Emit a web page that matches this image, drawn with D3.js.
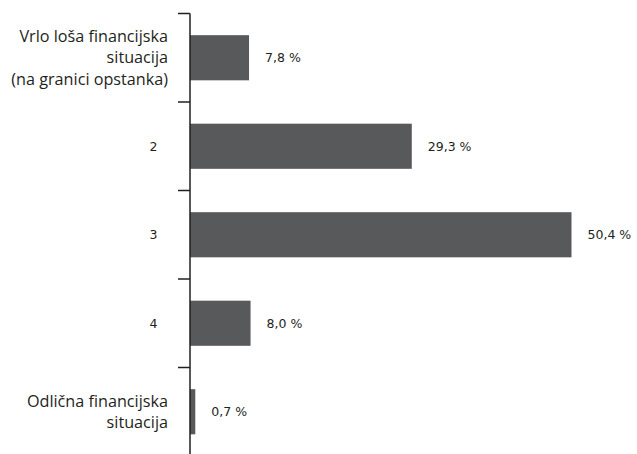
<!DOCTYPE html>
<html><head><meta charset="utf-8">
<script src="https://cdn.jsdelivr.net/npm/d3@7"></script>
<style>body{margin:0;background:#fff}</style>
</head><body>
<svg id="c" width="637" height="454"></svg>
<script>
const categories = [["Vrlo loša financijska","situacija","(na granici opstanka)"],["2"],["3"],["4"],["Odlična financijska","situacija"]];
const values = [7.8, 29.3, 50.4, 8.0, 0.7];
const valueLabels = ["7,8 %","29,3 %","50,4 %","8,0 %","0,7 %"];

const svg = d3.select("#c");
const x0 = 190;
const x = d3.scaleLinear().domain([0, 50.4]).range([x0, 571.5]);
const y = d3.scaleBand().domain(d3.range(categories.length)).range([13.5, 456]).paddingInner(0.49).paddingOuter(0.245);

// bars
svg.selectAll("rect.bar").data(values).join("rect")
  .attr("x", x(0)).attr("y", (d,i)=>y(i))
  .attr("width", d=>x(d)-x(0)).attr("height", y.bandwidth())
  .attr("fill", "#58595b");

// axis line + ticks at band boundaries
const step = y.step();
const bounds = d3.range(categories.length+1).map(i => 13.5 + i*step);
svg.append("line").attr("x1", x0).attr("x2", x0).attr("y1", 13.5).attr("y2", 456)
  .attr("stroke", "#231f20").attr("stroke-width", 1.5);
svg.selectAll("line.tick").data(bounds).join("line")
  .attr("x1", 178).attr("x2", x0).attr("y1", d=>d).attr("y2", d=>d)
  .attr("stroke", "#231f20").attr("stroke-width", 1.5);

// value labels
svg.selectAll("text.val").data(values).join("text")
  .attr("x", d=>x(d)+16).attr("y", (d,i)=>y(i)+y.bandwidth()/2)
  .attr("dy", "0.35em")
  .attr("font-family", "DejaVu Sans").attr("font-size", 12.5).attr("fill", "#231f20")
  .text((d,i)=>valueLabels[i]);

// category labels
const lh = 21.5;
categories.forEach((lines, i) => {
  const cy = y(i) + y.bandwidth()/2;
  const single = lines.length === 1;
  const t = svg.append("text")
    .attr("text-anchor", "end")
    .attr("font-family", single ? "DejaVu Sans" : "Open Sans")
    .attr("font-size", single ? 12.5 : 16.2).attr("fill", "#231f20");
  lines.forEach((s, k) => {
    t.append("tspan").attr("x", single ? 157.5 : 168)
      .attr("y", cy + (k - (lines.length-1)/2)*lh).attr("dy", "0.35em").text(s);
  });
});
</script>
</body></html>
